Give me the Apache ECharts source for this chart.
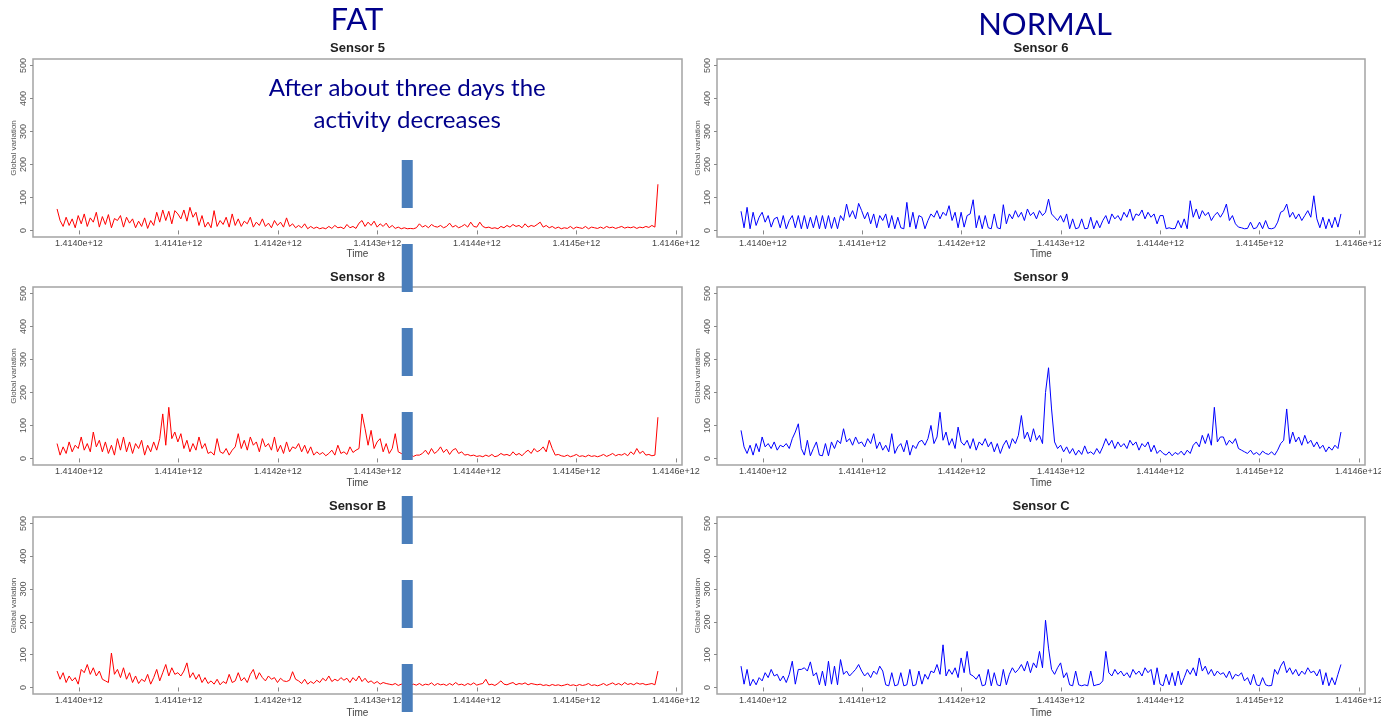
<!DOCTYPE html>
<html><head><meta charset="utf-8">
<script src="https://cdn.jsdelivr.net/npm/echarts@6/dist/echarts.min.js"></script>
<style>html,body{margin:0;padding:0;background:#fff}#c{width:1381px;height:717px}</style>
</head><body><div id="c"></div>
<script>
// ---- data ----
const timeStart = 1.413978e12;
const timeEnd = 1.414582e12;
const xTickValues = [1.4140e12, 1.4141e12, 1.4142e12, 1.4143e12, 1.4144e12, 1.4145e12, 1.4146e12];
const yTickValues = [0, 100, 200, 300, 400, 500];
const panelTitles = ['Sensor 5', 'Sensor 6', 'Sensor 8', 'Sensor 9', 'Sensor B', 'Sensor C'];
const groupTitles = ['FAT', 'NORMAL'];
const noteLines = ['After about three days the', 'activity decreases'];
const decreaseTime = 1.41433e12;

const sensor5 = [
  65,30,12,40,15,35,8,45,20,50, 12,38,25,55,10,42,18,48,8,36,
  30,45,10,40,22,35,8,28,12,38, 6,30,15,55,25,62,30,58,20,60,
  50,35,62,28,70,40,55,15,45,10, 25,8,60,12,30,18,40,10,50,15,
  35,12,28,20,40,10,25,15,35,12, 22,8,30,15,25,10,38,12,20,8,
  15,8,20,5,12,6,10,5,8,5, 12,6,15,8,10,5,18,8,12,6,
  22,30,12,25,15,28,10,20,12,22, 8,15,6,10,5,8,5,6,5,8,
  20,10,15,8,18,12,10,15,8,12, 22,10,15,8,12,18,10,25,12,10,
  25,12,8,10,6,8,5,12,8,15, 10,18,12,15,8,20,10,15,12,18,
  25,10,15,8,12,6,10,5,8,6, 12,5,10,8,6,12,5,10,8,6,
  10,6,12,8,10,6,9,12,7,10, 8,11,6,10,8,12,9,15,10,140
];
const sensor6 = [
  58,8,70,5,55,15,40,55,25,45, 10,35,40,8,45,5,30,45,8,45,
  5,45,5,40,8,45,5,45,5,45, 6,40,5,45,30,80,40,60,35,82,
  60,35,55,20,50,8,45,30,50,8, 45,5,40,8,5,85,10,55,5,45,
  40,5,30,50,40,60,35,55,45,75, 30,55,8,55,10,45,50,93,8,45,
  5,45,8,5,50,8,5,78,20,50, 35,60,40,55,30,65,45,55,35,60,
  45,55,95,50,40,30,45,25,50,5, 35,5,8,35,5,6,40,5,30,8,
  30,45,20,50,35,45,30,55,40,65, 30,50,45,62,35,55,40,50,20,45,
  45,5,8,5,6,30,8,35,5,90, 40,65,35,60,45,55,30,45,55,40,
  55,80,30,45,20,10,8,5,6,25, 5,8,25,5,30,6,5,8,25,55,
  60,80,40,55,35,50,30,45,60,40, 105,35,8,40,5,35,8,40,10,50
];
const sensor8 = [
  45,10,35,15,50,20,40,30,65,25, 45,20,80,35,55,20,50,15,40,10,
  60,25,65,20,50,15,45,30,55,10, 40,20,50,25,60,135,40,155,60,80,
  50,75,30,55,20,45,25,65,30,45, 15,20,10,60,20,15,30,10,25,35,
  75,30,55,25,65,40,50,20,60,35, 45,25,65,20,40,15,50,20,35,30,
  45,20,40,15,35,10,20,12,18,8, 15,25,10,40,15,20,12,35,18,25,
  30,135,90,40,85,30,50,60,20,45, 15,30,75,20,15,10,8,12,6,10,
  10,15,25,12,30,15,22,35,18,28, 12,25,30,15,20,10,12,8,10,6,
  8,5,10,6,12,5,8,15,10,12, 8,20,10,15,8,18,25,15,30,20,
  25,35,20,55,30,10,12,8,6,10, 5,8,12,6,8,5,10,6,8,5,
  8,12,6,10,15,8,12,10,15,8, 20,12,30,15,22,10,12,8,10,125
];
const sensor9 = [
  85,35,15,40,10,45,20,65,35,45, 30,50,25,40,35,45,30,60,80,105,
  30,10,55,8,30,50,10,8,45,8, 50,30,55,45,90,50,60,40,65,45,
  50,35,60,45,75,30,50,25,40,20, 75,15,35,45,20,55,10,40,30,50,
  55,40,60,100,45,65,140,55,80,40, 60,30,95,50,40,55,30,60,25,50,
  40,60,35,50,20,45,15,40,55,30, 60,45,70,130,60,80,50,90,55,70,
  45,200,275,150,50,30,40,20,35,15, 30,10,25,12,38,15,20,12,30,15,
  35,60,40,55,30,50,35,45,30,55, 40,50,25,45,35,50,20,40,15,25,
  15,10,20,8,18,12,22,10,25,15, 40,50,35,70,45,75,40,155,50,65,
  65,40,55,45,60,30,25,20,15,25, 12,18,10,22,15,12,20,10,25,45,
  55,150,45,80,50,65,40,70,45,55, 35,50,30,40,20,35,25,40,30,80
];
const sensorB = [
  50,25,45,15,35,20,30,10,55,45, 70,40,60,35,50,25,20,15,105,40,
  55,30,60,25,45,15,35,12,25,18, 40,10,30,55,20,45,70,35,60,40,
  45,35,50,75,30,45,25,40,15,30, 12,20,10,25,8,18,12,40,15,20,
  45,20,30,15,40,55,25,45,30,20, 35,25,30,15,28,20,18,22,48,25,
  20,12,25,10,18,12,22,15,28,20, 35,18,25,20,30,22,28,15,30,20,
  35,18,28,15,20,12,18,10,15,12, 10,8,12,6,10,8,9,6,10,7,
  12,6,10,8,14,6,12,8,10,6, 12,7,15,8,10,6,12,8,14,7,
  10,12,25,8,10,6,12,20,10,8, 12,15,8,12,10,14,8,12,10,8,
  10,6,8,5,9,6,8,5,7,10, 6,8,5,9,6,8,12,6,8,5,
  8,12,6,10,14,8,12,7,15,9, 12,8,14,10,12,8,10,12,8,50
];
const sensorC = [
  65,10,55,5,25,8,30,20,45,30, 55,35,40,20,35,15,40,80,10,55,
  55,60,50,78,35,45,8,50,5,80, 10,65,8,85,40,50,35,45,55,70,
  50,35,45,30,50,40,65,50,8,5, 45,5,8,45,5,8,55,5,8,50,
  10,40,25,50,45,70,40,130,35,55, 40,60,30,90,45,110,40,35,25,40,
  5,8,55,5,45,8,5,55,8,40, 60,45,55,70,50,80,45,75,60,110,
  60,205,120,55,40,60,75,30,45,8, 5,50,8,5,8,5,50,5,8,10,
  20,110,45,35,55,40,50,35,45,30, 55,40,50,35,60,45,55,8,60,10,
  5,40,8,45,5,50,8,30,55,40, 60,35,90,50,65,40,55,35,50,40,
  45,30,50,25,40,35,45,20,30,8, 40,8,5,30,8,5,6,55,40,65,
  80,45,60,40,55,35,50,40,60,45, 50,35,55,8,45,5,30,8,40,70
];
const seriesValues = [sensor5, sensor6, sensor8, sensor9, sensorB, sensorC];
const seriesColors = ['#ff0000', '#0000ff', '#ff0000', '#0000ff', '#ff0000', '#0000ff'];

// ---- layout ----
const colLeft = [33, 717], colWidth = [649, 648];
const rowTop = [59, 287, 517], rowHeight = [178, 178, 177];
const titleY = [48, 277, 506];
const timeGap = [12, 13, 14];
const xMin = 1.4139538e12, xMax = 1.4146062e12;

function timesFor(n) {
  const out = [];
  for (let i = 0; i < n; i++) out.push(timeStart + (timeEnd - timeStart) * i / (n - 1));
  return out;
}

const grids = [], xAxes = [], yAxes = [], series = [], graphics = [];
const labelFont = 'Liberation Sans';
for (let p = 0; p < 6; p++) {
  const r = Math.floor(p / 2), c = p % 2;
  grids.push({ left: colLeft[c], top: rowTop[r], width: colWidth[c], height: rowHeight[r],
    show: true, borderColor: '#a4a4a4', borderWidth: 1.5, backgroundColor: '#fff',
    containLabel: false, outerBoundsMode: 'none' });
  xAxes.push({ type: 'value', gridIndex: p, min: xMin, max: xMax,
    axisLine: { show: false }, splitLine: { show: false },
    axisTick: { show: true, length: 4, lineStyle: { color: '#888' }, customValues: xTickValues },
    axisLabel: { customValues: xTickValues, margin: 2, fontSize: 9, color: '#444', fontFamily: labelFont,
      formatter: v => Number(v).toExponential(4) },
    name: 'Time', nameLocation: 'middle', nameGap: timeGap[r],
    nameTextStyle: { fontSize: 10, color: '#444', fontFamily: labelFont } });
  yAxes.push({ type: 'value', gridIndex: p, min: -20, max: 520,
    axisLine: { show: false }, splitLine: { show: false },
    axisTick: { show: true, length: 3, lineStyle: { color: '#888' }, customValues: yTickValues },
    axisLabel: { customValues: yTickValues, rotate: 90, margin: 5, fontSize: 9, color: '#555', fontFamily: labelFont },
    name: 'Global variation', nameLocation: 'middle', nameGap: 14,
    nameTextStyle: { fontSize: 8, color: '#555', fontFamily: labelFont } });
  const t = timesFor(seriesValues[p].length);
  series.push({ type: 'line', xAxisIndex: p, yAxisIndex: p, showSymbol: false, silent: true,
    data: seriesValues[p].map((v, i) => [t[i], v]),
    lineStyle: { color: seriesColors[p], width: 1 }, itemStyle: { color: seriesColors[p] } });
  graphics.push({ type: 'text', x: colLeft[c] + colWidth[c] / 2, y: titleY[r],
    style: { text: panelTitles[p], fontSize: 13, fontWeight: 'bold', fontFamily: labelFont, fill: '#222',
      align: 'center', verticalAlign: 'middle', textAlign: 'center', textVerticalAlign: 'middle' } });
}
const navy = '#00008B';
const headFont = 'Lato';
graphics.push({ type: 'text', x: 357, y: 20, style: { text: groupTitles[0], fontSize: 31, fontFamily: headFont, fill: navy,
  align: 'center', verticalAlign: 'middle', textAlign: 'center', textVerticalAlign: 'middle' } });
graphics.push({ type: 'text', x: 1045, y: 25, style: { text: groupTitles[1], fontSize: 31, fontFamily: headFont, fill: navy,
  align: 'center', verticalAlign: 'middle', textAlign: 'center', textVerticalAlign: 'middle' } });

const chart = echarts.init(document.getElementById('c'), null, { renderer: 'canvas' });
chart.setOption({ animation: false, backgroundColor: '#fff', grid: grids, xAxis: xAxes, yAxis: yAxes, series: series, graphic: graphics });

// dashed annotation bar at the time activity decreases
const barX = chart.convertToPixel({ gridIndex: 0 }, [decreaseTime, 0])[0];
graphics.push({ type: 'line', z: 100, shape: { x1: barX, y1: 160, x2: barX, y2: 712 },
  style: { stroke: '#4A7EBB', lineWidth: 11, lineDash: [48, 36], lineCap: 'butt' } });
graphics.push({ type: 'text', z: 100, x: barX, y: 88, style: { text: noteLines[0], fontSize: 24, fontFamily: headFont, fill: navy,
  align: 'center', verticalAlign: 'middle', textAlign: 'center', textVerticalAlign: 'middle' } });
graphics.push({ type: 'text', z: 100, x: barX, y: 120, style: { text: noteLines[1], fontSize: 24, fontFamily: headFont, fill: navy,
  align: 'center', verticalAlign: 'middle', textAlign: 'center', textVerticalAlign: 'middle' } });
chart.setOption({ graphic: graphics });
</script></body></html>
